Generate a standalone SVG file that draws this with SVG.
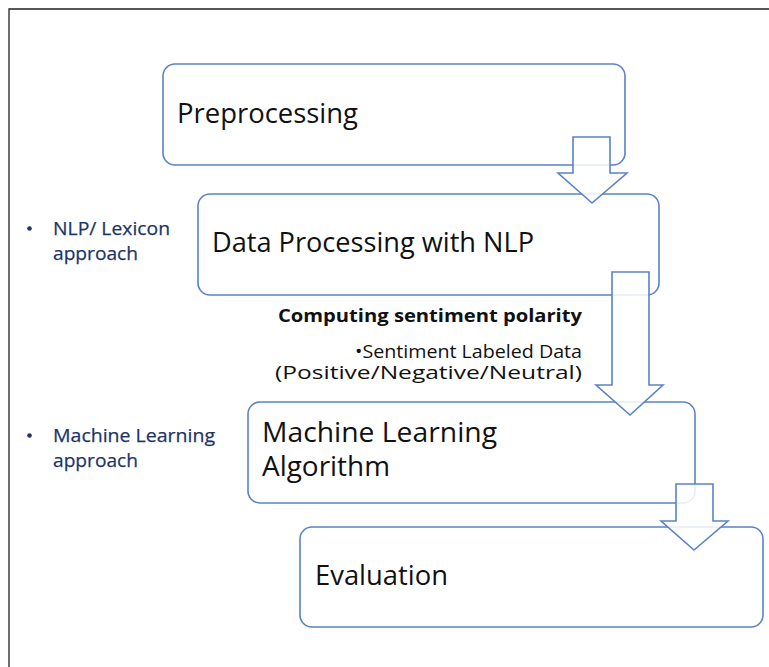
<svg xmlns="http://www.w3.org/2000/svg" width="769" height="667" viewBox="0 0 769 667">
  <style>
    .box { fill: #ffffff; stroke: #5a82c8; stroke-width: 1.6; }
    .arrow { fill: #ffffff; fill-opacity: 0.85; stroke: #5a82c8; stroke-width: 1.6; stroke-linejoin: miter; }
    .title { font-family: "Open Sans", "Liberation Sans", sans-serif; font-size: 27px; fill: #111111; }
    .side { font-family: "Open Sans", "Liberation Sans", sans-serif; font-size: 19px; fill: #1c3468; stroke: #1c3468; stroke-width: 0.25; }
    .note { font-family: "Open Sans", "Liberation Sans", sans-serif; font-size: 18px; fill: #111111; }
    .note-b { font-family: "Open Sans", "Liberation Sans", sans-serif; font-size: 18px; font-weight: bold; fill: #111111; }
  </style>

  <rect x="0" y="0" width="769" height="667" fill="#ffffff"/>
  <!-- page frame -->
  <path d="M9,667 V9 H769" fill="none" stroke="#222222" stroke-width="1.3"/>

  <!-- side labels -->
  <g id="label-nlp">
    <circle cx="29.5" cy="228.5" r="2.3" fill="#1c3468"/>
    <text class="side" x="53" y="235" textLength="117" lengthAdjust="spacingAndGlyphs">NLP/ Lexicon</text>
    <text class="side" x="53" y="260" textLength="85" lengthAdjust="spacingAndGlyphs">approach</text>
  </g>
  <g id="label-ml">
    <circle cx="29.5" cy="435.5" r="2.3" fill="#1c3468"/>
    <text class="side" x="53" y="442" textLength="162" lengthAdjust="spacingAndGlyphs">Machine Learning</text>
    <text class="side" x="53" y="467" textLength="85" lengthAdjust="spacingAndGlyphs">approach</text>
  </g>

  <!-- process steps -->
  <g id="node-preprocessing">
    <rect class="box" x="163" y="64" width="462" height="101" rx="12"/>
    <text class="title" x="177" y="123" textLength="181" lengthAdjust="spacingAndGlyphs">Preprocessing</text>
  </g>
  <g id="node-data-processing">
    <rect class="box" x="198" y="194" width="461" height="101" rx="12"/>
    <text class="title" x="212" y="252" textLength="322" lengthAdjust="spacingAndGlyphs">Data Processing with NLP</text>
  </g>
  <g id="node-ml">
    <rect class="box" x="248" y="402" width="447" height="101" rx="12"/>
    <text class="title" x="262" y="442" textLength="235" lengthAdjust="spacingAndGlyphs">Machine Learning</text>
    <text class="title" x="262" y="476" textLength="128" lengthAdjust="spacingAndGlyphs">Algorithm</text>
  </g>
  <g id="node-evaluation">
    <rect class="box" x="300" y="527" width="463" height="100" rx="12"/>
    <text class="title" x="315" y="585" textLength="133" lengthAdjust="spacingAndGlyphs">Evaluation</text>
  </g>

  <!-- annotation between steps -->
  <g id="note-polarity">
    <text class="note-b" x="582" y="322" text-anchor="end" textLength="304" lengthAdjust="spacingAndGlyphs">Computing sentiment polarity</text>
    <text class="note" x="582" y="358" text-anchor="end" textLength="227" lengthAdjust="spacingAndGlyphs">•Sentiment Labeled Data</text>
    <text class="note" x="582" y="379" text-anchor="end" textLength="307" lengthAdjust="spacingAndGlyphs">(Positive/Negative/Neutral)</text>
  </g>

  <!-- block arrows -->
  <g id="connectors">
    <path class="arrow" d="M573,137 H610 V173 H627 L592,203 L558,173 H573 Z"/>
    <path class="arrow" d="M612,272 H649 V385 H663 L630,415 L596,385 H612 Z"/>
    <path class="arrow" d="M676,484 H713 V521 H728 L694,550 L661,521 H676 Z"/>
  </g>
</svg>
